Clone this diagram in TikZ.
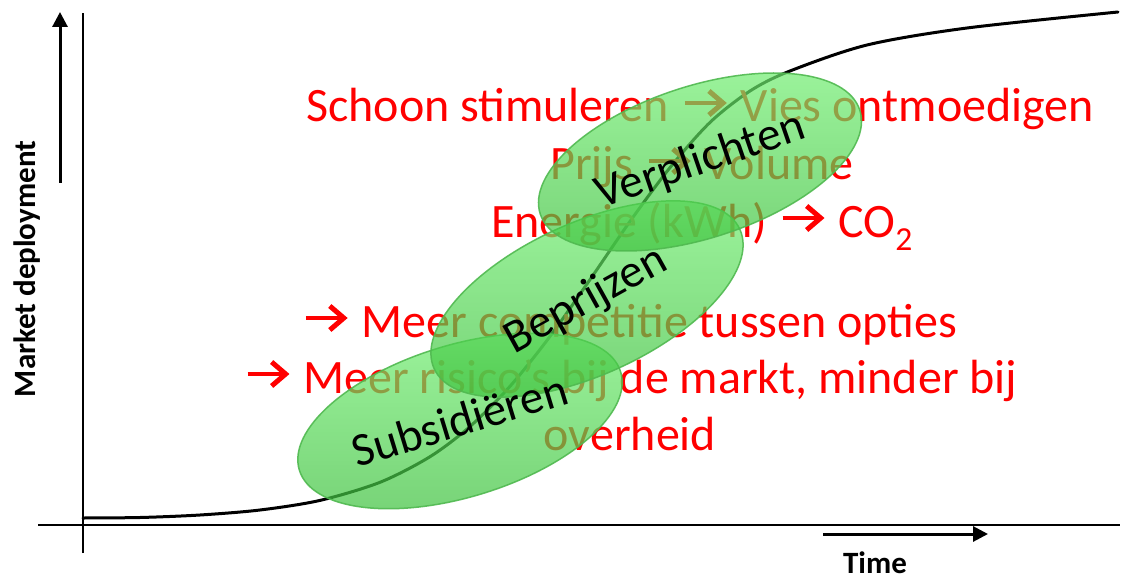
\documentclass[tikz,border=0pt]{standalone}
\usepackage{fontspec}
\setmainfont{Carlito}
\usetikzlibrary{shapes.geometric, arrows.meta}
\definecolor{redtxt}{RGB}{255,0,0}
\definecolor{gtop}{RGB}{115,240,115}
\definecolor{gbot}{RGB}{60,192,60}
\definecolor{gedge}{RGB}{80,185,80}
\newcommand{\rarr}{\tikz[x=1pt,y=1pt,baseline=0pt]{\path (0,0) rectangle (50,1); \draw[redtxt, line width=4.5pt] (5,19) -- (41,19); \draw[redtxt, line width=5pt, miter limit=10] (29,31) -- (43,19) -- (29,7);}}
\tikzset{
  axis/.style={line width=2pt, black},
  arr/.style={line width=3pt, black, -{Triangle[length=15pt, width=15pt]}},
  curve/.style={line width=3pt, black, line cap=round},
  axlabel/.style={font=\fontsize{31}{37}\selectfont\bfseries, inner sep=0pt},
  redt/.style={font=\fontsize{48}{58}\selectfont, text=redtxt, inner sep=0pt},
  blob/.style={ellipse, draw=gedge, line width=1.5pt, top color=gtop, bottom color=gbot,
    fill opacity=0.7, draw opacity=0.9, minimum width=336pt, minimum height=152pt, inner sep=0pt},
  lab/.style={font=\fontsize{47}{56}\selectfont, text=black, text opacity=1, inner sep=0pt,
    text height=30pt, text depth=0pt}
}
\begin{document}
\begin{tikzpicture}[x=1pt,y=-1pt]
\useasboundingbox[fill=white] (0,0) rectangle (1124,580);
% axes
\coordinate (ybot) at (83,553); \coordinate (ytop) at (83,13);
\coordinate (xl) at (38,525); \coordinate (xr) at (1120,525);
\draw[axis] (ybot) -- (ytop);
\draw[axis] (xl) -- (xr);
\coordinate (ya0) at (60,183); \coordinate (ya1) at (60,12);
\draw[arr] (ya0) -- (ya1);
\coordinate (ta0) at (823,534); \coordinate (ta1) at (988,534);
\draw[arr] (ta0) -- (ta1);
\node[axlabel, rotate=90, anchor=base] (ylab) at (35,269) {Market deployment};
\node[axlabel, anchor=base] (tlab) at (875,573) {Time};
% S-curve
\draw[curve] plot[smooth, tension=0.5] coordinates {(83,518) (140,517.5) (200,515) (260,510) (320,500.4) (380,482.3) (430,456.7) (470,426.5) (510,386.3) (550,336.4) (590,279.6) (630,221.4) (670,167.6) (710,122.4) (750,91) (790,71) (867,45) (967,28) (1118,12)};
% red text
\node[redt, anchor=base] (l1) at (700,122) {Schoon stimuleren \rarr{} Vies ontmoedigen};
\node[redt, anchor=base] (l2) at (702,180) {Prijs \rarr{} Volume};
\node[redt, anchor=base] (l3) at (702,237) {Energie (kWh) \rarr{} CO\textsubscript{2}};
\node[redt, anchor=base] (l4) at (629,337) {\rarr{} Meer competitie tussen opties};
\node[redt, anchor=base] (l5) at (630,393) {\rarr{} Meer risico's bij de markt, minder bij};
\node[redt, anchor=base] (l6) at (630,450) {overheid};
% ellipses
\node[blob, rotate=17] (sub) at (460,421) {};
\node[blob, rotate=24.5] (bep) at (587,299) {};
\node[blob, rotate=18] (ver) at (700,162) {};
% labels
\node[lab, rotate=17] (sublab) at (sub.center) {Subsidiëren};
\node[lab, rotate=29] (beplab) at ([xshift=-2pt,yshift=1pt]bep.center) {Beprijzen};
\node[lab, rotate=19] (verlab) at ([yshift=3pt]ver.center) {Verplichten};
\end{tikzpicture}
\end{document}
